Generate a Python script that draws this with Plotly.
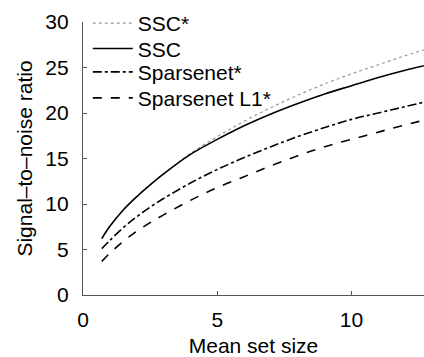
import plotly.graph_objects as go

mean_set_size = [0.7, 1, 1.5, 2, 2.5, 3, 4, 5, 6, 7, 8, 9, 10, 11, 12, 13]
ssc_star = [6.2, 7.55, 9.35, 10.8, 12.1, 13.3, 15.55, 17.4, 19.1, 20.6, 21.95, 23.2, 24.3, 25.3, 26.3, 27.2]
ssc = [6.2, 7.55, 9.35, 10.8, 12.1, 13.3, 15.45, 17.1, 18.6, 19.9, 21.05, 22.1, 23.0, 23.9, 24.7, 25.4]
sparsenet_star = [5.1, 6.0, 7.4, 8.6, 9.65, 10.6, 12.3, 13.8, 15.1, 16.3, 17.4, 18.4, 19.3, 20.0, 20.7, 21.4]
sparsenet_l1_star = [3.7, 4.6, 5.9, 7.0, 7.95, 8.8, 10.4, 11.8, 13.0, 14.2, 15.3, 16.3, 17.1, 17.9, 18.7, 19.4]

x_ticks = [0, 5, 10]
y_ticks = [0, 5, 10, 15, 20, 25, 30]

FONT = "Liberation Sans, Arial, Helvetica, sans-serif"

series = [
    ("SSC*", ssc_star, dict(color="#999999", width=1.2, dash="dot"), "legend", 1.07),
    ("SSC", ssc, dict(color="black", width=1.6, dash="solid"), "legend2", 0.977),
    ("Sparsenet*", sparsenet_star, dict(color="black", width=1.6, dash="dashdot"), "legend3", 0.891),
    ("Sparsenet L1*", sparsenet_l1_star, dict(color="black", width=1.6, dash="dash"), "legend4", 0.796),
]

fig = go.Figure()
legend_layouts = {}
for name, vals, line, leg, ly in series:
    fig.add_trace(go.Scatter(x=mean_set_size, y=vals, mode="lines", name=name, legend=leg,
                             line=dict(shape="spline", smoothing=1.0, **line)))
    legend_layouts[leg] = dict(x=0.014, y=ly, xanchor="left", yanchor="top", bgcolor="rgba(0,0,0,0)",
                               font=dict(family=FONT, size=21, color="black"), itemwidth=40)

axis_common = dict(showgrid=False, zeroline=False, showline=True, linecolor="#555555", linewidth=1.2,
                   ticks="inside", ticklen=4, tickcolor="#555555", tickwidth=1,
                   tickfont=dict(family=FONT, size=21, color="black"))

fig.update_layout(
    width=424, height=357,
    margin=dict(l=83, r=0, t=22, b=62),
    paper_bgcolor="white", plot_bgcolor="white",
    font=dict(family=FONT, size=21, color="black"),
    xaxis=dict(range=[0, 12.7], tickvals=x_ticks, ticklabelstandoff=6,
               title=dict(text="Mean set size", font=dict(size=21), standoff=10), **axis_common),
    yaxis=dict(range=[0, 30], tickvals=y_ticks, ticklabelstandoff=9,
               title=dict(text="Signal–to–noise ratio", font=dict(size=21), standoff=6), **axis_common),
    showlegend=True,
    **legend_layouts,
)

fig.write_html("out.html")
